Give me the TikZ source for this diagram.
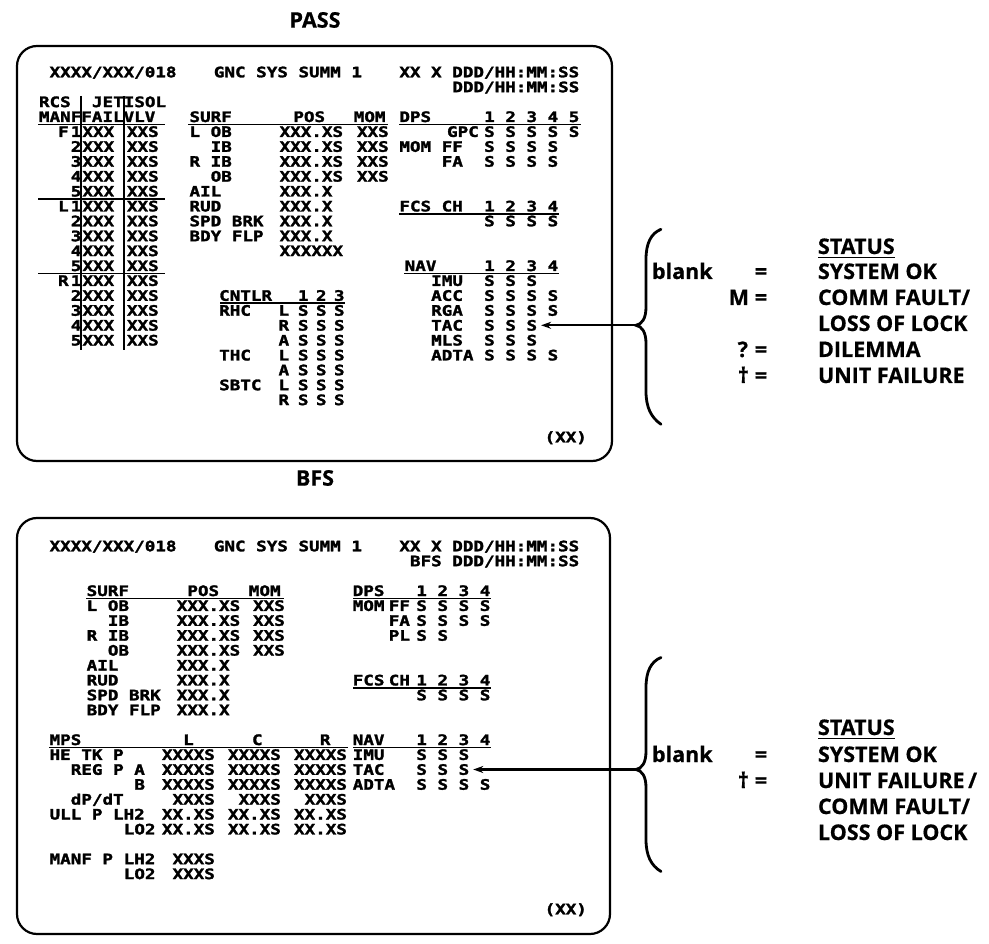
\documentclass[tikz,border=0pt]{standalone}
\usepackage{fontspec}
\usetikzlibrary{arrows.meta,calc}
\newfontfamily\scrfont{DejaVu Sans Mono}[FakeStretch=1.22,BoldFeatures={FakeBold=1.9}]
\newfontfamily\lgdfont{Open Sans}[BoldFeatures={FakeBold=0.6}]
\newcounter{tn}
\newcommand\ST[3]{\stepcounter{tn}\node[scr] (t\arabic{tn}) at ({39+10.6*(#1)},{#2}) {#3};}
\newcommand\prow[1]{(77.3+14.9*(#1-1))}
\newcommand\brow[1]{(551.3+14.9*(#1-1))}
\newcommand\rcsrow[2]{\ST{3}{\prow{#1}}{#2}\ST{4.1}{\prow{#1}}{XXX}\ST{8.3}{\prow{#1}}{XXS}}
\newcommand\ctlS[1]{\ST{24.43}{\prow{#1}}{S}\ST{26.13}{\prow{#1}}{S}\ST{27.83}{\prow{#1}}{S}}
\begin{document}
\begin{tikzpicture}[x=1pt,y=-1pt,
  scr/.style={font=\scrfont\bfseries\fontsize{14.4}{14.4}\selectfont,anchor=base west,inner sep=0pt,outer sep=0pt},
  lgd/.style={font=\lgdfont\bfseries\fontsize{21.5}{21.5}\selectfont,inner sep=0pt,outer sep=0pt},
  frame/.style={line width=2.2pt,rounded corners=20pt},
  rule/.style={line width=1.8pt},
  bracestyle/.style={line width=2.8pt,line cap=round},
  arr/.style={line width=2.3pt,-{Stealth[length=10pt,width=7pt]}},
]
\useasboundingbox (0,0) rectangle (989,944);
\fill[white] (0,0) rectangle (989,944);

% titles
\node[lgd] (ptitle) at (315,20) {PASS};
\node[lgd] (btitle) at (315,478) {BFS};

% frames
\draw[frame] (17,46) rectangle (612,461);
\draw[frame] (17,518) rectangle (610,934);

% ================= PASS screen =================
\ST{1}{\prow{1}}{XXXX/XXX/018}
\ST{16.5}{\prow{1}}{GNC SYS SUMM 1}
\ST{34}{\prow{1}}{XX X DDD/HH:MM:SS}
\ST{39}{\prow{2}}{DDD/HH:MM:SS}
\ST{0}{\prow{3}}{RCS}
\ST{5}{\prow{3}}{JET}
\ST{8}{\prow{3}}{ISOL}
\ST{0}{\prow{4}}{MANFFAILVLV}
\ST{14.2}{\prow{4}}{SURF}
\ST{24}{\prow{4}}{POS}
\ST{29.7}{\prow{4}}{MOM}
\ST{34}{\prow{4}}{DPS}
\ST{42}{\prow{4}}{1 2 3 4 5}
% RCS rows
\ST{1.8}{\prow{5}}{F}\rcsrow{5}{1}
\rcsrow{6}{2}\rcsrow{7}{3}\rcsrow{8}{4}\rcsrow{9}{5}
\ST{1.8}{\prow{10}}{L}\rcsrow{10}{1}
\rcsrow{11}{2}\rcsrow{12}{3}\rcsrow{13}{4}\rcsrow{14}{5}
\ST{1.8}{\prow{15}}{R}\rcsrow{15}{1}
\rcsrow{16}{2}\rcsrow{17}{3}\rcsrow{18}{4}\rcsrow{19}{5}
% SURF
\ST{14.2}{\prow{5}}{L OB}\ST{22.7}{\prow{5}}{XXX.XS}\ST{30}{\prow{5}}{XXS}
\ST{16.2}{\prow{6}}{IB}\ST{22.7}{\prow{6}}{XXX.XS}\ST{30}{\prow{6}}{XXS}
\ST{14.2}{\prow{7}}{R IB}\ST{22.7}{\prow{7}}{XXX.XS}\ST{30}{\prow{7}}{XXS}
\ST{16.2}{\prow{8}}{OB}\ST{22.7}{\prow{8}}{XXX.XS}\ST{30}{\prow{8}}{XXS}
\ST{14.2}{\prow{9}}{AIL}\ST{22.7}{\prow{9}}{XXX.X}
\ST{14.2}{\prow{10}}{RUD}\ST{22.7}{\prow{10}}{XXX.X}
\ST{14.2}{\prow{11}}{SPD BRK}\ST{22.7}{\prow{11}}{XXX.X}
\ST{14.2}{\prow{12}}{BDY FLP}\ST{22.7}{\prow{12}}{XXX.X}
\ST{22.7}{\prow{13}}{XXXXXX}
% DPS
\ST{38.5}{\prow{5}}{GPC}\ST{42}{\prow{5}}{S S S S S}
\ST{34}{\prow{6}}{MOM FF}\ST{42}{\prow{6}}{S S S S}
\ST{38}{\prow{7}}{FA}\ST{42}{\prow{7}}{S S S S}
% FCS
\ST{34}{\prow{10}}{FCS CH}\ST{42}{\prow{10}}{1 2 3 4}
\ST{42}{\prow{11}}{S S S S}
% NAV
\ST{34.5}{\prow{14}}{NAV}\ST{42}{\prow{14}}{1 2 3 4}
\ST{37}{\prow{15}}{IMU}\ST{42}{\prow{15}}{S S S}
\ST{37}{\prow{16}}{ACC}\ST{42}{\prow{16}}{S S S S}
\ST{37}{\prow{17}}{RGA}\ST{42}{\prow{17}}{S S S S}
\ST{37}{\prow{18}}{TAC}\node[scr] (pTAC) at ({39+10.6*42},{\prow{18}}) {S S S};
\ST{37}{\prow{19}}{MLS}\ST{42}{\prow{19}}{S S S}
\ST{37}{\prow{20}}{ADTA}\ST{42}{\prow{20}}{S S S S}
% CNTLR
\ST{17}{\prow{16}}{CNTLR}\ST{24.43}{\prow{16}}{1}\ST{26.13}{\prow{16}}{2}\ST{27.83}{\prow{16}}{3}
\ST{17}{\prow{17}}{RHC}\ST{22.6}{\prow{17}}{L}\ctlS{17}
\ST{22.6}{\prow{18}}{R}\ctlS{18}
\ST{22.6}{\prow{19}}{A}\ctlS{19}
\ST{17}{\prow{20}}{THC}\ST{22.6}{\prow{20}}{L}\ctlS{20}
\ST{22.6}{\prow{21}}{A}\ctlS{21}
\ST{17}{\prow{22}}{SBTC}\ST{22.6}{\prow{22}}{L}\ctlS{22}
\ST{22.6}{\prow{23}}{R}\ctlS{23}
\ST{47.7}{442.3}{(XX)}
% PASS rules
\draw[rule] (81,96) -- (81,350);
\draw[rule] (123.8,96) -- (123.8,350);
\draw[rule] (38,{\prow{4}+2.5}) -- (165,{\prow{4}+2.5});
\draw[rule] (38,{\prow{9}+2.5}) -- (165,{\prow{9}+2.5});
\draw[rule] (38,{\prow{14}+2.5}) -- (165,{\prow{14}+2.5});
\draw[rule] (188,{\prow{4}+2.5}) -- (388,{\prow{4}+2.5});
\draw[rule] (399,{\prow{4}+2.5}) -- (581,{\prow{4}+2.5});
\draw[rule] (399,{\prow{10}+2.5}) -- (559,{\prow{10}+2.5});
\draw[rule] (404,{\prow{14}+2.5}) -- (559,{\prow{14}+2.5});
\draw[rule] (220,{\prow{16}+2.5}) -- (345,{\prow{16}+2.5});

% ================= BFS screen =================
\ST{1}{\brow{1}}{XXXX/XXX/018}
\ST{16.5}{\brow{1}}{GNC SYS SUMM 1}
\ST{34}{\brow{1}}{XX X DDD/HH:MM:SS}
\ST{35}{\brow{2}}{BFS DDD/HH:MM:SS}
\ST{4.5}{\brow{4}}{SURF}\ST{14}{\brow{4}}{POS}\ST{19.8}{\brow{4}}{MOM}
\ST{4.5}{\brow{5}}{L OB}\ST{13}{\brow{5}}{XXX.XS}\ST{20.2}{\brow{5}}{XXS}
\ST{6.5}{\brow{6}}{IB}\ST{13}{\brow{6}}{XXX.XS}\ST{20.2}{\brow{6}}{XXS}
\ST{4.5}{\brow{7}}{R IB}\ST{13}{\brow{7}}{XXX.XS}\ST{20.2}{\brow{7}}{XXS}
\ST{6.5}{\brow{8}}{OB}\ST{13}{\brow{8}}{XXX.XS}\ST{20.2}{\brow{8}}{XXS}
\ST{4.5}{\brow{9}}{AIL}\ST{13}{\brow{9}}{XXX.X}
\ST{4.5}{\brow{10}}{RUD}\ST{13}{\brow{10}}{XXX.X}
\ST{4.5}{\brow{11}}{SPD BRK}\ST{13}{\brow{11}}{XXX.X}
\ST{4.5}{\brow{12}}{BDY FLP}\ST{13}{\brow{12}}{XXX.X}
% DPS / FCS
\ST{29.6}{\brow{4}}{DPS}\ST{35.6}{\brow{4}}{1 2 3 4}
\ST{29.6}{\brow{5}}{MOM}\ST{33}{\brow{5}}{FF}\ST{35.6}{\brow{5}}{S S S S}
\ST{33}{\brow{6}}{FA}\ST{35.6}{\brow{6}}{S S S S}
\ST{33}{\brow{7}}{PL}\ST{35.6}{\brow{7}}{S S}
\ST{29.6}{\brow{10}}{FCS}\ST{33}{\brow{10}}{CH}\ST{35.6}{\brow{10}}{1 2 3 4}
\ST{35.6}{\brow{11}}{S S S S}
% MPS
\ST{1}{\brow{14}}{MPS}\ST{13.6}{\brow{14}}{L}\ST{20.1}{\brow{14}}{C}\ST{26.5}{\brow{14}}{R}
\ST{1}{\brow{15}}{HE TK P}\ST{11.6}{\brow{15}}{XXXXS}\ST{17.83}{\brow{15}}{XXXXS}\ST{24.06}{\brow{15}}{XXXXS}
\ST{3}{\brow{16}}{REG P A}\ST{11.6}{\brow{16}}{XXXXS}\ST{17.83}{\brow{16}}{XXXXS}\ST{24.06}{\brow{16}}{XXXXS}
\ST{9}{\brow{17}}{B}\ST{11.6}{\brow{17}}{XXXXS}\ST{17.83}{\brow{17}}{XXXXS}\ST{24.06}{\brow{17}}{XXXXS}
\ST{3}{\brow{18}}{dP/dT}\ST{12.6}{\brow{18}}{XXXS}\ST{18.83}{\brow{18}}{XXXS}\ST{25.06}{\brow{18}}{XXXS}
\ST{1}{\brow{19}}{ULL P LH2}\ST{11.6}{\brow{19}}{XX.XS}\ST{17.83}{\brow{19}}{XX.XS}\ST{24.06}{\brow{19}}{XX.XS}
\ST{8}{\brow{20}}{LO2}\ST{11.6}{\brow{20}}{XX.XS}\ST{17.83}{\brow{20}}{XX.XS}\ST{24.06}{\brow{20}}{XX.XS}
\ST{1}{\brow{22}}{MANF P LH2}\ST{12.6}{\brow{22}}{XXXS}
\ST{8}{\brow{23}}{LO2}\ST{12.6}{\brow{23}}{XXXS}
% NAV
\ST{29.6}{\brow{14}}{NAV}\ST{35.6}{\brow{14}}{1 2 3 4}
\ST{29.6}{\brow{15}}{IMU}\ST{35.6}{\brow{15}}{S S S}
\ST{29.6}{\brow{16}}{TAC}\node[scr] (bTAC) at ({39+10.6*35.6},{\brow{16}}) {S S S};
\ST{29.6}{\brow{17}}{ADTA}\ST{35.6}{\brow{17}}{S S S S}
\ST{47.7}{914.3}{(XX)}
% BFS rules
\draw[rule] (86,{\brow{4}+2.5}) -- (284,{\brow{4}+2.5});
\draw[rule] (353,{\brow{4}+2.5}) -- (491,{\brow{4}+2.5});
\draw[rule] (353,{\brow{10}+2.5}) -- (491,{\brow{10}+2.5});
\draw[rule] (49,{\brow{14}+2.5}) -- (348,{\brow{14}+2.5});
\draw[rule] (353,{\brow{14}+2.5}) -- (491,{\brow{14}+2.5});

% ================= braces and arrows =================
\coordinate (ptip) at (636,325.3);
\coordinate (btip) at (636,769.5);
\begin{scope}[shift={(636,325.3)}]
\draw[bracestyle] (25,-96) .. controls (15,-92) and (10,-82) .. (10,-66) -- (10,-18) .. controls (10,-7) and (6,-1) .. (0,0) .. controls (6,1) and (10,7) .. (10,18) -- (10,66) .. controls (10,82) and (15,92) .. (25,99);
\end{scope}
\begin{scope}[shift={(636,769.5)}]
\draw[bracestyle] (25,-112) .. controls (15,-108) and (10,-98) .. (10,-82) -- (10,-18) .. controls (10,-7) and (6,-1) .. (0,0) .. controls (6,1) and (10,7) .. (10,18) -- (10,70) .. controls (10,86) and (15,96) .. (25,102);
\end{scope}
\draw[arr] (ptip) -- ($(ptip -| pTAC.east)+(4,0)$);
\draw[arr] (btip) -- ($(btip -| bTAC.east)+(4,0)$);

% ================= legends =================
\node[lgd,anchor=base west] (pst) at (818,254) {STATUS};
\draw[line width=1.7pt] ([yshift=-3.5pt]pst.base west) -- ([yshift=-3.5pt]pst.base east);
\node[lgd,anchor=base west] (pb) at (652,279) {blank};
\node[lgd,anchor=base] (pe1) at (761,279) {=};
\node[lgd,anchor=base west] (pv1) at (818,279) {SYSTEM OK};
\node[lgd,anchor=base east] (pm) at (749,305) {M};
\node[lgd,anchor=base] (pe2) at (761,305) {=};
\node[lgd,anchor=base west] (pv2) at (818,305) {COMM FAULT/};
\node[lgd,anchor=base west] (pv3) at (818,331) {LOSS OF LOCK};
\node[lgd,anchor=base east] (pq) at (748,357) {?};
\node[lgd,anchor=base] (pe3) at (761,357) {=};
\node[lgd,anchor=base west] (pv4) at (818,357) {DILEMMA};
\node[lgd,anchor=base east] (pd) at (749,383) {†};
\node[lgd,anchor=base] (pe4) at (761,383) {=};
\node[lgd,anchor=base west] (pv5) at (818,383) {UNIT FAILURE};

\node[lgd,anchor=base west] (bst) at (818,735) {STATUS};
\draw[line width=1.7pt] ([yshift=-3.5pt]bst.base west) -- ([yshift=-3.5pt]bst.base east);
\node[lgd,anchor=base west] (bb) at (652,762) {blank};
\node[lgd,anchor=base] (be1) at (761,762) {=};
\node[lgd,anchor=base west] (bv1) at (818,762) {SYSTEM OK};
\node[lgd,anchor=base east] (bd) at (749,788) {†};
\node[lgd,anchor=base] (be2) at (761,788) {=};
\node[lgd,anchor=base west] (bv2) at (818,788) {UNIT FAILURE\,/};
\node[lgd,anchor=base west] (bv3) at (818,814) {COMM FAULT/};
\node[lgd,anchor=base west] (bv4) at (818,840) {LOSS OF LOCK};
\end{tikzpicture}
\end{document}
